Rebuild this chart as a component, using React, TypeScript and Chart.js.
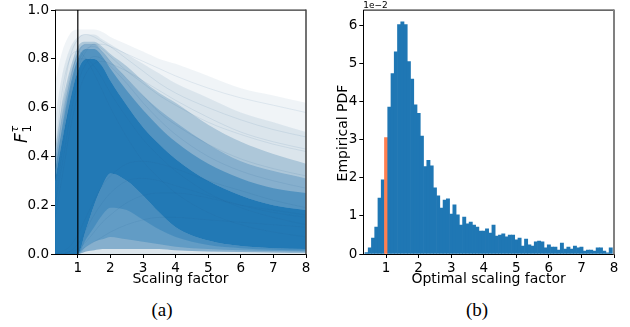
import React, { useEffect, useRef } from "react";
import { Chart, registerables } from "chart.js";

Chart.register(...registerables);

// ---------- Panel (a): density of F1 curves vs scaling factor ----------
const XS = [0.3, 0.5, 0.75, 1, 1.25, 1.5, 1.75, 2, 2.5, 3, 3.5, 4, 5, 6, 7, 8];
const HAZE_TOP = [0.70, 0.82, 0.90, 0.92, 0.92, 0.92, 0.91, 0.89, 0.86, 0.83, 0.80, 0.78, 0.73, 0.68, 0.65, 0.62];
const HAZE2_TOP = [0.55, 0.72, 0.84, 0.89, 0.90, 0.90, 0.88, 0.86, 0.82, 0.78, 0.74, 0.70, 0.64, 0.58, 0.54, 0.50];
const MID_TOP = [0.42, 0.60, 0.75, 0.85, 0.87, 0.87, 0.85, 0.82, 0.77, 0.71, 0.66, 0.62, 0.53, 0.46, 0.41, 0.37];
const MID2_TOP = [0.38, 0.55, 0.71, 0.83, 0.86, 0.86, 0.83, 0.79, 0.72, 0.65, 0.59, 0.54, 0.45, 0.38, 0.34, 0.31];
const MID_BOTTOM = [0, 0, 0, 0, 0.01, 0.015, 0.02, 0.02, 0.02, 0.02, 0.02, 0.015, 0.01, 0.008, 0.006, 0.005];
const SOFT_TOP = [0.34, 0.50, 0.68, 0.80, 0.84, 0.84, 0.81, 0.76, 0.67, 0.59, 0.52, 0.46, 0.37, 0.31, 0.27, 0.25];
const CORE_TOP = [0.30, 0.45, 0.62, 0.75, 0.80, 0.80, 0.77, 0.71, 0.61, 0.52, 0.45, 0.39, 0.30, 0.24, 0.20, 0.18];
const CORE_BOTTOM = [0, 0, 0, 0, 0.10, 0.20, 0.28, 0.33, 0.30, 0.24, 0.17, 0.11, 0.055, 0.033, 0.024, 0.02];
const FAN_MID = [0, 0, 0, 0, 0.06, 0.11, 0.16, 0.19, 0.18, 0.14, 0.10, 0.07, 0.037, 0.024, 0.017, 0.014];
const FAN_BOTTOM = [0, 0, 0, 0, 0.03, 0.05, 0.06, 0.07, 0.06, 0.05, 0.04, 0.03, 0.02, 0.015, 0.012, 0.01];

// a few individual curves giving the streak texture
const SAMPLE_CURVES = [
  [0.35, 0.60, 0.80, 0.88, 0.90, 0.89, 0.87, 0.85, 0.80, 0.75, 0.70, 0.66, 0.60, 0.55, 0.51, 0.48],
  [0.30, 0.50, 0.70, 0.82, 0.86, 0.86, 0.84, 0.81, 0.75, 0.70, 0.65, 0.61, 0.54, 0.49, 0.45, 0.42],
  [0.25, 0.45, 0.65, 0.78, 0.84, 0.85, 0.83, 0.79, 0.72, 0.65, 0.58, 0.53, 0.45, 0.39, 0.35, 0.32],
  [0.20, 0.35, 0.55, 0.70, 0.78, 0.81, 0.80, 0.77, 0.70, 0.62, 0.55, 0.49, 0.40, 0.34, 0.30, 0.27],
  [0.00, 0.01, 0.03, 0.08, 0.15, 0.22, 0.28, 0.32, 0.37, 0.38, 0.37, 0.35, 0.30, 0.26, 0.22, 0.19],
  [0.00, 0.00, 0.01, 0.04, 0.10, 0.16, 0.21, 0.25, 0.30, 0.31, 0.30, 0.28, 0.24, 0.20, 0.17, 0.15],
  [0.00, 0.00, 0.01, 0.02, 0.05, 0.09, 0.13, 0.16, 0.21, 0.24, 0.25, 0.25, 0.23, 0.20, 0.18, 0.16],
  [0.00, 0.00, 0.00, 0.01, 0.03, 0.05, 0.07, 0.09, 0.12, 0.14, 0.15, 0.15, 0.14, 0.13, 0.12, 0.11],
  [0.40, 0.65, 0.80, 0.83, 0.80, 0.74, 0.67, 0.60, 0.48, 0.38, 0.31, 0.25, 0.17, 0.12, 0.09, 0.07],
  [0.30, 0.55, 0.72, 0.80, 0.80, 0.77, 0.72, 0.66, 0.56, 0.47, 0.40, 0.34, 0.25, 0.19, 0.15, 0.12],
  [0.20, 0.40, 0.62, 0.76, 0.83, 0.86, 0.86, 0.85, 0.82, 0.79, 0.76, 0.73, 0.68, 0.64, 0.61, 0.58],
  [0.15, 0.30, 0.50, 0.65, 0.74, 0.78, 0.79, 0.78, 0.75, 0.71, 0.67, 0.63, 0.56, 0.50, 0.46, 0.43],
];
const REFERENCE_X = 1;
const LEFT_X_TICKS = [1, 2, 3, 4, 5, 6, 7, 8];
const LEFT_Y_TICKS = [0, 0.2, 0.4, 0.6, 0.8, 1.0];

// ---------- Panel (b): histogram of optimal scaling factor ----------
const BIN_CENTERS = [
  0.4, 0.5, 0.6, 0.7, 0.8, 0.9, 1.0, 1.1, 1.2, 1.3, 1.4, 1.5, 1.6, 1.7, 1.8, 1.9,
  2.0, 2.1, 2.2, 2.3, 2.4, 2.5, 2.6, 2.7, 2.8, 2.9, 3.0, 3.1, 3.2, 3.3, 3.4, 3.5,
  3.6, 3.7, 3.8, 3.9, 4.0, 4.1, 4.2, 4.3, 4.4, 4.5, 4.6, 4.7, 4.8, 4.9, 5.0, 5.1,
  5.2, 5.3, 5.4, 5.5, 5.6, 5.7, 5.8, 5.9, 6.0, 6.1, 6.2, 6.3, 6.4, 6.5, 6.6, 6.7,
  6.8, 6.9, 7.0, 7.1, 7.2, 7.3, 7.4, 7.5, 7.6, 7.7, 7.8, 7.9,
];
const PDF_VALUES = [
  0.04, 0.16, 0.42, 0.71, 1.47, 1.95, 3.06, 3.86, 4.74, 5.31, 6.03, 6.10, 6.03, 5.06, 4.60, 3.92,
  3.70, 3.10, 2.30, 2.46, 2.32, 1.74, 1.53, 1.21, 1.42, 1.45, 1.05, 1.29, 1.03, 0.76, 0.97, 0.79,
  0.84, 0.76, 0.71, 0.60, 0.60, 0.66, 0.55, 0.76, 0.47, 0.50, 0.53, 0.45, 0.50, 0.50, 0.37, 0.42,
  0.21, 0.39, 0.24, 0.21, 0.32, 0.34, 0.32, 0.16, 0.24, 0.18, 0.18, 0.10, 0.29, 0.13, 0.18, 0.13,
  0.21, 0.16, 0.18, 0.08, 0.10, 0.10, 0.08, 0.16, 0.16, 0.08, 0.03, 0.16,
];
const HIGHLIGHT_BIN = 1.0;
const RIGHT_X_TICKS = [1, 2, 3, 4, 5, 6, 7, 8];
const RIGHT_Y_TICKS = [0, 1, 2, 3, 4, 5, 6];

const BLUE = "#1f77b4";
const ORANGE = "#ff7f50";
const FONT = "'DejaVu Sans', sans-serif";
const TICK_FONT = { family: FONT, size: 13.5 };
const TITLE_SIZE = 14;

const pts = (ys: number[]) => XS.map((x, i) => ({ x, y: ys[i] }));

function axisCommon(ticksArr: number[], fmt: (v: number) => string, fit: (s: any) => void) {
  return {
    type: "linear" as const,
    afterBuildTicks: (s: any) => {
      s.ticks = ticksArr.map((v) => ({ value: v }));
    },
    afterFit: fit,
    ticks: {
      font: TICK_FONT,
      color: "#000",
      padding: 2,
      autoSkip: false,
      maxRotation: 0,
      callback: (v: any) => fmt(Number(v)),
    },
    grid: {
      display: true,
      drawOnChartArea: false,
      drawTicks: true,
      tickLength: 4,
      tickColor: "#000",
      color: "#000",
      offset: false,
    },
    border: { display: true, color: "#000", width: 1 },
  };
}

const framePlugin = (opts: {
  rightColor: string;
  rightWidth: number;
  xTitle: string;
  yTitle: (ctx: CanvasRenderingContext2D, a: any) => void;
  extra?: (ctx: CanvasRenderingContext2D, a: any) => void;
}) => ({
  id: "frame",
  afterDraw(chart: any) {
    const ctx: CanvasRenderingContext2D = chart.ctx;
    const a = chart.chartArea;
    ctx.save();
    ctx.strokeStyle = "#000";
    ctx.lineWidth = 1;
    ctx.beginPath();
    ctx.moveTo(a.left, a.top);
    ctx.lineTo(a.right, a.top);
    ctx.stroke();
    ctx.strokeStyle = opts.rightColor;
    ctx.lineWidth = opts.rightWidth;
    ctx.beginPath();
    ctx.moveTo(a.right, a.top - 0.5);
    ctx.lineTo(a.right, a.bottom + 0.5);
    ctx.stroke();
    ctx.fillStyle = "#000";
    ctx.font = `${TITLE_SIZE}px ${FONT}`;
    ctx.textAlign = "center";
    ctx.textBaseline = "alphabetic";
    ctx.fillText(opts.xTitle, (a.left + a.right) / 2, 283);
    opts.yTitle(ctx, a);
    if (opts.extra) opts.extra(ctx, a);
    ctx.restore();
  },
});

function LeftChart() {
  const ref = useRef<HTMLCanvasElement | null>(null);
  useEffect(() => {
    if (!ref.current) return;
    const none = "rgba(0,0,0,0)";
    const base = { pointRadius: 0, borderWidth: 0, borderColor: none, cubicInterpolationMode: "monotone" as const };
    const datasets: any[] = [
      {
        data: [{ x: REFERENCE_X, y: 0 }, { x: REFERENCE_X, y: 1 }],
        borderColor: "#000",
        borderWidth: 1.2,
        pointRadius: 0,
        fill: false,
        order: 0,
      },
      { ...base, data: pts(CORE_BOTTOM), fill: false, order: 2 },
      { ...base, data: pts(CORE_TOP), fill: 1, backgroundColor: "rgba(31,119,180,0.97)", order: 2 },
      { ...base, data: pts(SOFT_TOP), fill: 2, backgroundColor: "rgba(31,119,180,0.5)", order: 3 },
      { ...base, data: pts(FAN_MID), fill: false, order: 4 },
      { ...base, data: pts(CORE_BOTTOM), fill: 4, backgroundColor: "rgba(31,119,180,0.38)", order: 4 },
      { ...base, data: pts(FAN_BOTTOM), fill: false, order: 5 },
      { ...base, data: pts(CORE_BOTTOM), fill: 6, backgroundColor: "rgba(31,119,180,0.35)", order: 5 },
      { ...base, data: pts(MID_BOTTOM), fill: false, order: 6 },
      { ...base, data: pts(MID2_TOP), fill: 8, backgroundColor: "rgba(31,112,172,0.28)", order: 6 },
      { ...base, data: pts(MID_BOTTOM), fill: false, order: 7 },
      { ...base, data: pts(MID_TOP), fill: 10, backgroundColor: "rgba(35,108,160,0.25)", order: 7 },
      { ...base, data: pts(HAZE2_TOP), fill: "origin", backgroundColor: "rgba(40,100,145,0.1)", order: 8 },
      { ...base, data: pts(HAZE_TOP), fill: "origin", backgroundColor: "rgba(40,100,145,0.07)", order: 9 },
    ];
    SAMPLE_CURVES.forEach((c) =>
      datasets.push({
        data: pts(c),
        borderColor: "rgba(31,95,145,0.14)",
        borderWidth: 0.7,
        pointRadius: 0,
        fill: false,
        cubicInterpolationMode: "monotone",
        order: 1,
      })
    );
    const chart = new Chart(ref.current, {
      type: "line",
      data: { datasets },
      options: {
        responsive: false,
        animation: false,
        devicePixelRatio: 1,
        layout: { padding: { top: 10, right: 9, left: 0, bottom: 0 } },
        plugins: { legend: { display: false }, tooltip: { enabled: false } },
        scales: {
          x: { ...axisCommon(LEFT_X_TICKS, (v) => String(v), (s: any) => { s.height = 36; }), min: 0.3, max: 8 },
          y: { ...axisCommon(LEFT_Y_TICKS, (v) => v.toFixed(1), (s: any) => { s.width = 55; }), min: 0, max: 1 },
        },
      },
      plugins: [
        framePlugin({
          rightColor: "#444",
          rightWidth: 1.5,
          xTitle: "Scaling factor",
          yTitle: (ctx) => {
            ctx.save();
            ctx.translate(27, 134);
            ctx.rotate(-Math.PI / 2);
            ctx.textAlign = "left";
            ctx.textBaseline = "alphabetic";
            ctx.font = `italic 17px ${FONT}`;
            const fw = ctx.measureText("F").width;
            const x0 = -(fw + 8) / 2;
            ctx.fillText("F", x0, 0);
            ctx.font = `12px ${FONT}`;
            ctx.fillText("1", x0 + fw + 0.5, 3.5);
            ctx.font = `italic 11px ${FONT}`;
            ctx.fillText("τ", x0 + fw + 0.5, -9);
            ctx.restore();
          },
        }) as any,
      ],
    });
    return () => chart.destroy();
  }, []);
  return <canvas ref={ref} width={315} height={290} style={{ position: "absolute", left: 0, top: 0 }} />;
}

function RightChart() {
  const ref = useRef<HTMLCanvasElement | null>(null);
  useEffect(() => {
    if (!ref.current) return;
    const chart = new Chart(ref.current, {
      type: "bar",
      data: {
        datasets: [
          {
            data: BIN_CENTERS.map((x, i) => ({ x, y: PDF_VALUES[i] })),
            backgroundColor: BIN_CENTERS.map((x) => (x === HIGHLIGHT_BIN ? ORANGE : BLUE)),
            borderWidth: 0,
            categoryPercentage: 1,
            barPercentage: 1,
          },
        ] as any,
      },
      options: {
        responsive: false,
        animation: false,
        devicePixelRatio: 1,
        layout: { padding: { top: 10, right: 16, left: 0, bottom: 0 } },
        plugins: { legend: { display: false }, tooltip: { enabled: false } },
        scales: {
          x: {
            ...axisCommon(RIGHT_X_TICKS, (v) => String(v), (s: any) => { s.height = 36; }),
            min: 0.3,
            max: 8,
            offset: false,
          },
          y: {
            ...axisCommon(RIGHT_Y_TICKS, (v) => String(v), (s: any) => { s.width = 48.3; }),
            min: 0,
            max: 6.41,
          },
        },
      },
      plugins: [
        framePlugin({
          rightColor: "#808080",
          rightWidth: 2,
          xTitle: "Optimal scaling factor",
          yTitle: (ctx) => {
            ctx.save();
            ctx.translate(28, 133);
            ctx.rotate(-Math.PI / 2);
            ctx.textAlign = "center";
            ctx.textBaseline = "middle";
            ctx.font = `${TITLE_SIZE}px ${FONT}`;
            ctx.fillText("Empirical PDF", 0, 0);
            ctx.restore();
          },
          extra: (ctx, a) => {
            ctx.font = `9px ${FONT}`;
            ctx.textAlign = "left";
            ctx.textBaseline = "alphabetic";
            ctx.fillText("1e\u22122", a.left, a.top - 2);
          },
        }) as any,
      ],
    });
    return () => chart.destroy();
  }, []);
  return <canvas ref={ref} width={315} height={290} style={{ position: "absolute", left: 315, top: 0 }} />;
}

export default function App() {
  const cap: React.CSSProperties = {
    position: "absolute",
    top: 298,
    width: 60,
    textAlign: "center",
    fontFamily: "'Liberation Serif', 'Times New Roman', serif",
    fontSize: 19,
    lineHeight: "24px",
    color: "#000",
  };
  return (
    <div style={{ position: "absolute", left: 0, top: 0, width: 630, height: 327, background: "#fff", overflow: "hidden" }}>
      <LeftChart />
      <RightChart />
      <div style={{ ...cap, left: 162 - 30 }}>(a)</div>
      <div style={{ ...cap, left: 477 - 30 }}>(b)</div>
    </div>
  );
}
